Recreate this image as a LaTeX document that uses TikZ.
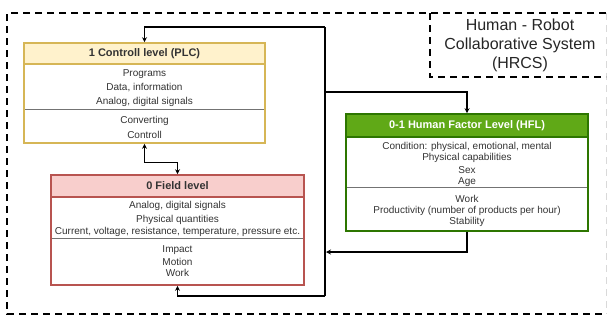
\documentclass[tikz,border=0pt]{standalone}
\usepackage{fontspec}
\setmainfont{Liberation Sans}
\usetikzlibrary{arrows.meta}
\definecolor{txt}{HTML}{333333}
\definecolor{yelF}{HTML}{FFF2CC}\definecolor{yelD}{HTML}{D6B656}
\definecolor{redF}{HTML}{F8CECC}\definecolor{redD}{HTML}{B85450}
\definecolor{grnF}{HTML}{60A917}\definecolor{grnD}{HTML}{2D7600}
\tikzset{
  boxframe/.style={draw=#1, line width=1.6pt, rectangle, inner sep=0pt},
  sepline/.style={draw=black!55, line width=0.8pt},
  head/.style={font=\fontsize{11}{13}\selectfont\bfseries, text=txt, inner sep=0pt},
  bodytxt/.style={font=\fontsize{10}{12}\selectfont, text=txt, inner sep=0pt},
  conn/.style={draw=black, line width=1.2pt},
  tip/.style={-{Stealth[length=5pt,width=5pt]}},
  border/.style={draw=black, line width=1.8pt, dash pattern=on 7pt off 5pt},
}
\begin{document}
\begin{tikzpicture}[x=1pt,y=-1pt]
\useasboundingbox (0,0) rectangle (607,322);
\fill[white] (0,0) rectangle (607,322);
% outer system border
\draw[border, draw=black!15, line width=0.8pt] (606,13) -- (606,314);
\draw[border] (606,13) -- (7,13) -- (7,314) -- (606,314);
\draw[border, line width=1.5pt] (430,13) -- (430,77) -- (606,77);
\node[font=\fontsize{16}{19}\selectfont, text=black!85, align=center, inner sep=0pt] (hrcs) at (520,45.5)
  {Human - Robot\\Collaborative System\\(HRCS)};

% PLC box
\fill[yelF] (24,43) rectangle (265,64);
\draw[yelD, line width=1.6pt] (24,64) -- (265,64);
\draw[sepline] (24,109) -- (265,109);
\node[boxframe=yelD, minimum width=241pt, minimum height=100pt] (plc) at (144.5,93) {};
\node[head] (plch) at (144.5,53.5) {1 Controll level (PLC)};
\node[bodytxt] (p1) at (144.5,74) {Programs};
\node[bodytxt] (p2) at (144.5,88) {Data, information};
\node[bodytxt] (p3) at (144.5,102) {Analog, digital signals};
\node[bodytxt] (p4) at (144.5,121) {Converting};
\node[bodytxt] (p5) at (144.5,135) {Controll};

% Field box
\fill[redF] (51,175) rectangle (304,197);
\draw[redD, line width=1.6pt] (51,197) -- (304,197);
\draw[sepline] (51,238) -- (304,238);
\node[boxframe=redD, minimum width=253pt, minimum height=110pt] (field) at (177.5,230) {};
\node[head] (fh) at (177.5,186) {0 Field level};
\node[bodytxt] (f1) at (177.5,206) {Analog, digital signals};
\node[bodytxt] (f2) at (177.5,220) {Physical quantities};
\node[bodytxt] (f3) at (177.5,232) {Current, voltage, resistance, temperature, pressure etc.};
\node[bodytxt] (f4) at (177.5,250) {Impact};
\node[bodytxt] (f5) at (177.5,262) {Motion};
\node[bodytxt] (f6) at (177.5,273) {Work};

% HFL box
\fill[grnF] (346,114) rectangle (588,137);
\draw[grnD, line width=1.6pt] (346,137) -- (588,137);
\draw[sepline] (346,187) -- (588,187);
\node[boxframe=grnD, minimum width=242pt, minimum height=117pt] (hfl) at (467,172.5) {};
\node[head, text=white] (hh) at (467,126) {0-1 Human Factor Level (HFL)};
\node[bodytxt] (h1) at (467,147) {Condition: physical, emotional, mental};
\node[bodytxt] (h2) at (467,158) {Physical capabilities};
\node[bodytxt] (h3) at (467,170) {Sex};
\node[bodytxt] (h4) at (467,182) {Age};
\node[bodytxt] (h5) at (467,199) {Work};
\node[bodytxt] (h6) at (467,211) {Productivity (number of products per hour)};
\node[bodytxt] (h7) at (467,222) {Stability};

% bus and connectors
\coordinate (bt) at (325,27);
\coordinate (bm) at (325,92);
\coordinate (bj) at (325,252);
\coordinate (bb) at (325,296);
\draw[conn] (bt) -- (bb);
\draw[conn, tip] (bt) -| (plc.north);
\draw[conn, tip] (bm) -| (hfl.north);
\draw[conn, tip] (bb) -| (field.south);
\draw[conn, tip] (hfl.south) |- ([xshift=1pt]bj);
\draw[conn, {Stealth[length=5pt,width=5pt]}-{Stealth[length=5pt,width=5pt]}] (plc.south) -- ++(0,19) -| (field.north);
\end{tikzpicture}
\end{document}
